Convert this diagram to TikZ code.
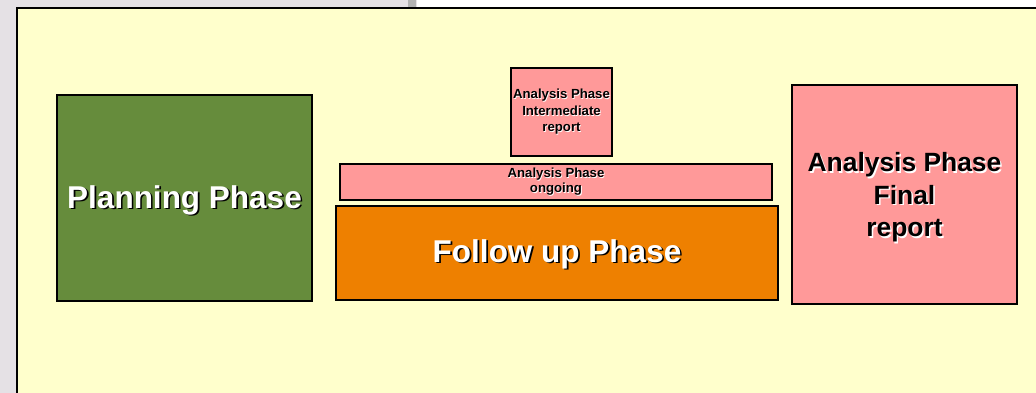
\documentclass[tikz,border=0pt]{standalone}
\usepackage{fontspec}
\setmainfont{Liberation Sans}
\usetikzlibrary{positioning}

\definecolor{framegrey}{HTML}{E5E1E5}
\definecolor{panelyellow}{HTML}{FFFFCC}
\definecolor{planninggreen}{HTML}{668C3C}
\definecolor{followorange}{HTML}{EE8000}
\definecolor{analysispink}{HTML}{FF9999}

\tikzset{
  phase/.style={draw=black, line width=2pt, inner sep=0pt, anchor=north west},
  bigtext/.style={font=\bfseries\fontsize{31.5}{36}\selectfont, align=center},
  midtext/.style={font=\bfseries\fontsize{26.4}{32.5}\selectfont, align=center},
  smalltext/.style={font=\bfseries\fontsize{13.2}{16.5}\selectfont, align=center},
  tinytext/.style={font=\bfseries\fontsize{13.2}{15}\selectfont, align=center}
}

\begin{document}
\begin{tikzpicture}[x=1pt, y=-1pt]
\useasboundingbox (0,0) rectangle (1036,393);
% window around the slide
\fill[framegrey] (0,0) rectangle (1036,393);
\fill[white] (417,0) rectangle (1036,8);
\fill[gray!60] (408,0) rectangle (416,8);
\draw[line width=2pt, fill=panelyellow] (17,8) rectangle (1045,400);

% phases
\node[phase, fill=planninggreen, minimum width=255pt, minimum height=206pt] (planning) at (56,94) {};
\node[phase, fill=analysispink, minimum width=101pt, minimum height=88pt] (intermediate) at (510,67) {};
\node[phase, fill=analysispink, minimum width=432pt, minimum height=36pt] (ongoing) at (339,163) {};
\node[phase, fill=followorange, minimum width=442pt, minimum height=94pt] (followup) at (335,205) {};
\node[phase, fill=analysispink, minimum width=225pt, minimum height=219pt] (final) at (791,84) {};

% labels with shadow
\node[bigtext, black] (planningshadow) at ([shift={(1.6,3.6)}]planning.center) {Planning Phase};
\node[bigtext, white] (planninglabel) at ([shift={(0,2)}]planning.center) {Planning Phase};

\node[bigtext, black] (followupshadow) at ([shift={(1.6,2.6)}]followup.center) {Follow up Phase};
\node[bigtext, white] (followuplabel) at ([shift={(0,1)}]followup.center) {Follow up Phase};

\node[midtext, white] (finalshadow) at ([shift={(1.4,4.4)}]final.center) {Analysis Phase\\Final\\report};
\node[midtext, black] (finallabel) at ([shift={(0,3)}]final.center) {Analysis Phase\\Final\\report};

\node[smalltext, white] (intermediateshadow) at ([shift={(0.8,0.8)}]intermediate.center) {Analysis Phase\\Intermediate\\report};
\node[smalltext, black] (intermediatelabel) at (intermediate.center) {Analysis Phase\\Intermediate\\report};

\node[tinytext, white] (ongoingshadow) at ([shift={(0.8,0.8)}]ongoing.center) {Analysis Phase\\ongoing};
\node[tinytext, black] (ongoinglabel) at (ongoing.center) {Analysis Phase\\ongoing};
\end{tikzpicture}
\end{document}
